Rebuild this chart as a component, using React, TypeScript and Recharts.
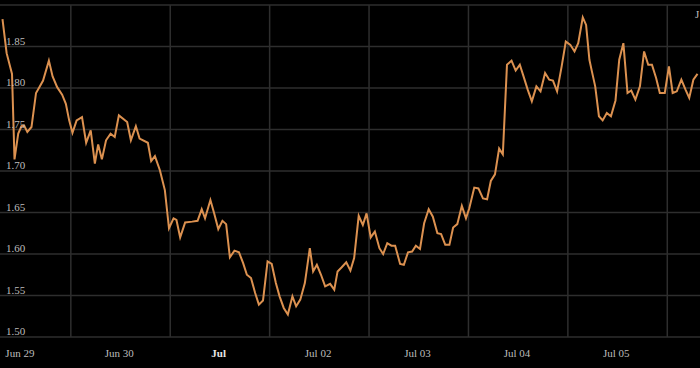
import { LineChart, Line, XAxis, YAxis, CartesianGrid, ReferenceLine } from 'recharts'

// hours since first sample
const hours = [
  0.6, 1.6, 2.9, 3.5, 4.4, 5.2, 5.8, 6.6, 7.6, 8.7, 9.5, 10.4, 11.8, 12.7, 13.8, 15.0, 15.9, 16.7, 17.5, 18.5,
  19.8, 20.8, 21.9, 22.9, 23.7, 24.6, 25.6, 26.7, 27.7, 28.7, 30.7, 31.6, 32.8, 33.7, 35.7, 36.5, 37.4, 38.6, 39.8, 40.8,
  41.9, 42.6, 43.5, 44.7, 46.4, 47.7, 48.7, 49.5, 50.8, 51.7, 52.7, 53.7, 54.6, 55.5, 56.6, 57.7, 58.7, 59.6, 60.6, 61.6,
  62.5, 63.5, 64.6, 65.6, 66.6, 67.5, 68.5, 69.5, 70.6, 71.5, 72.5, 73.6, 74.8, 75.6, 76.5, 77.5, 78.5, 79.7, 80.7, 81.5,
  82.5, 83.6, 84.6, 85.5, 86.6, 87.6, 88.5, 89.5, 90.5, 91.6, 92.5, 93.5, 94.5, 95.4, 96.6, 97.5, 98.5, 99.5, 100.4, 101.4,
  102.4, 103.5, 104.5, 105.6, 106.5, 107.5, 108.5, 109.4, 110.4, 111.5, 112.5, 113.3, 114.5, 115.5, 116.6, 117.6, 118.5, 119.5, 120.5, 121.4,
  122.4, 123.5, 124.5, 125.5, 126.4, 127.4, 128.4, 129.5, 130.5, 131.6, 132.6, 133.5, 134.5, 135.6, 136.6, 137.7, 138.7, 139.6, 140.7, 141.5,
  142.3, 142.9, 143.7, 144.6, 145.5, 146.5, 147.5, 148.6, 149.5, 150.5, 151.5, 152.4, 153.4, 154.5, 155.5, 156.5, 157.4, 158.4, 159.3, 160.5,
  161.5, 162.4, 163.4, 164.5, 165.5, 166.4, 167.4, 168.4,
]

const rates = [
  1.883, 1.842, 1.817, 1.714, 1.745, 1.754, 1.755, 1.747, 1.753, 1.794, 1.801, 1.809, 1.833, 1.814, 1.801, 1.792, 1.781, 1.761, 1.746, 1.761,
  1.765, 1.734, 1.749, 1.709, 1.732, 1.714, 1.737, 1.745, 1.741, 1.767, 1.759, 1.737, 1.754, 1.739, 1.734, 1.712, 1.718, 1.701, 1.677, 1.631,
  1.643, 1.641, 1.620, 1.638, 1.639, 1.640, 1.654, 1.643, 1.665, 1.649, 1.630, 1.640, 1.636, 1.596, 1.604, 1.602, 1.589, 1.575, 1.571, 1.553,
  1.539, 1.544, 1.591, 1.588, 1.565, 1.549, 1.535, 1.527, 1.549, 1.537, 1.545, 1.565, 1.607, 1.579, 1.587, 1.575, 1.561, 1.564, 1.557, 1.579,
  1.584, 1.590, 1.580, 1.595, 1.646, 1.635, 1.649, 1.620, 1.627, 1.607, 1.600, 1.613, 1.610, 1.610, 1.588, 1.587, 1.602, 1.603, 1.610, 1.606,
  1.637, 1.654, 1.645, 1.625, 1.624, 1.611, 1.611, 1.632, 1.636, 1.658, 1.643, 1.655, 1.680, 1.679, 1.667, 1.666, 1.688, 1.696, 1.727, 1.720,
  1.828, 1.833, 1.821, 1.828, 1.814, 1.798, 1.784, 1.802, 1.796, 1.818, 1.810, 1.809, 1.796, 1.826, 1.856, 1.852, 1.844, 1.854, 1.885, 1.876,
  1.834, 1.820, 1.802, 1.766, 1.761, 1.770, 1.766, 1.785, 1.834, 1.854, 1.794, 1.797, 1.786, 1.802, 1.844, 1.828, 1.828, 1.812, 1.794, 1.794,
  1.826, 1.794, 1.796, 1.810, 1.798, 1.788, 1.810, 1.817,
]

const dayLines = [17.1, 41.1, 65.1, 89.1, 113.1, 137.1, 161.1]
const labelHours = [4.8, 28.8, 52.8, 76.8, 100.8, 124.8, 148.8]
const dayLabels = ['Jun 29', 'Jun 30', 'Jul', 'Jul 02', 'Jul 03', 'Jul 04', 'Jul 05']
const rateTicks = [1.5, 1.55, 1.6, 1.65, 1.7, 1.75, 1.8, 1.85, 1.9]

const data = hours.map((h, i) => ({ h, v: rates[i] }))

const font = '"Liberation Serif", "Times New Roman", serif'

function DayTick(props: any) {
  const { x, y, payload } = props
  const i = labelHours.indexOf(payload.value)
  const label = dayLabels[i] ?? ''
  const isMonth = label === 'Jul'
  return (
    <text
      x={x}
      y={y + 12}
      textAnchor="middle"
      fontFamily={font}
      fontSize={11}
      fontWeight={isMonth ? 700 : 400}
      fill={isMonth ? '#e6e6e6' : '#bdbdbd'}
    >
      {label}
    </text>
  )
}

function RateTick(props: any) {
  const { y, payload } = props
  if (payload.value >= 1.9) return <g />
  return (
    <text x={6} y={y - 2} textAnchor="start" fontFamily={font} fontSize={11} fill="#bdbdbd">
      {Number(payload.value).toFixed(2)}
    </text>
  )
}

export default function App() {
  return (
    <div style={{ position: 'absolute', left: 0, top: 0, width: 700, height: 368, background: '#000', overflow: 'hidden' }}>
      <LineChart width={700} height={368} data={data} margin={{ top: 5, right: 0, bottom: 0, left: 0 }}>
        <CartesianGrid vertical={false} stroke="#2e2e2e" strokeWidth={1.5} />
        {dayLines.map((h) => (
          <ReferenceLine key={h} x={h} stroke="#2e2e2e" strokeWidth={1.5} />
        ))}
        <XAxis
          type="number"
          dataKey="h"
          domain={[0, 169]}
          ticks={labelHours}
          tick={(p: any) => <DayTick {...p} />}
          tickLine={false}
          axisLine={false}
          height={31}
          interval={0}
        />
        <YAxis
          type="number"
          domain={[1.5, 1.9]}
          ticks={rateTicks}
          tick={(p: any) => <RateTick {...p} />}
          tickLine={false}
          axisLine={false}
          width={40}
          mirror
          interval={0}
        />
        <Line type="linear" dataKey="v" stroke="#dc9150" strokeWidth={2} dot={false} isAnimationActive={false} />
      </LineChart>
      <span style={{ position: 'absolute', left: 695, top: 8, fontFamily: font, fontSize: 11, color: '#bdbdbd' }}>J</span>
    </div>
  )
}
